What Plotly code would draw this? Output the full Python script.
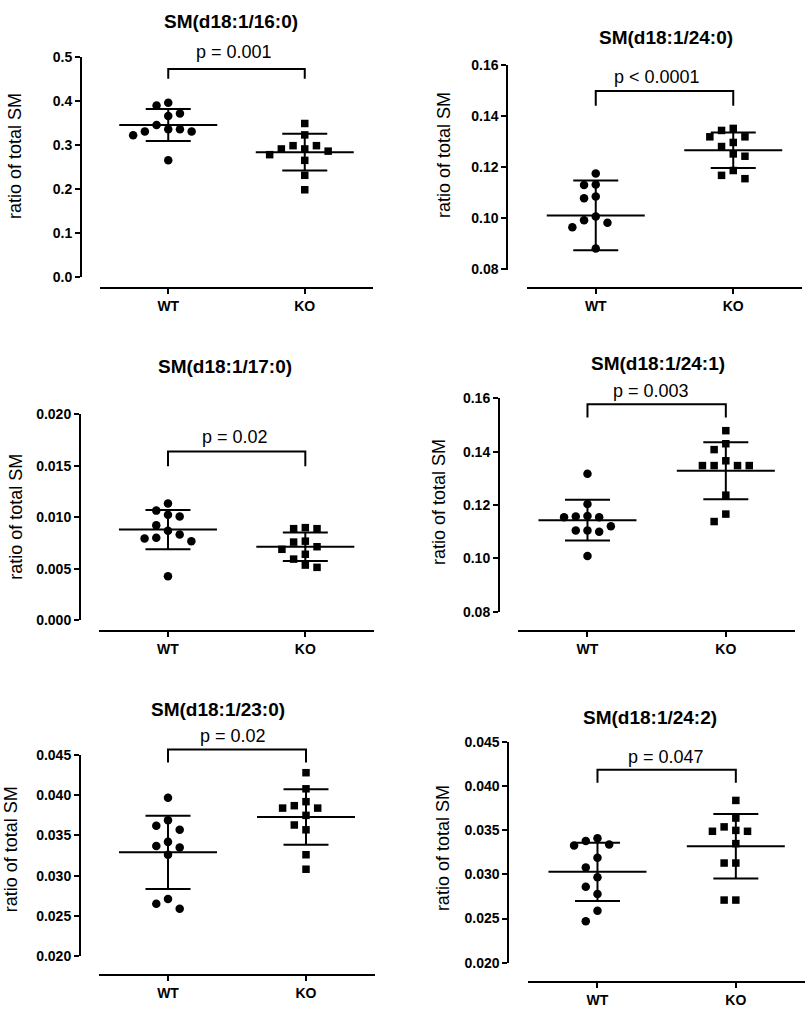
import plotly.graph_objects as go

W, H = 809, 1013

groups = ["WT", "KO"]
titles = ["SM(d18:1/16:0)", "SM(d18:1/24:0)", "SM(d18:1/17:0)",
          "SM(d18:1/24:1)", "SM(d18:1/23:0)", "SM(d18:1/24:2)"]
p_labels = ["p = 0.001", "p < 0.0001", "p = 0.02", "p = 0.003", "p = 0.02", "p = 0.047"]
y_title = "ratio of total SM"

y_ranges = [[0, 0.5], [0.08, 0.16], [0, 0.02], [0.08, 0.16], [0.02, 0.045], [0.02, 0.045]]
y_dticks = [0.1, 0.02, 0.005, 0.02, 0.005, 0.005]
y_formats = [".1f", ".2f", ".3f", ".2f", ".3f", ".3f"]

# individual animals
wt_values = [
    [0.396, 0.390, 0.372, 0.366, 0.3455, 0.336, 0.336, 0.331, 0.331, 0.322, 0.265],
    [0.1176, 0.1133, 0.1131, 0.1086, 0.1079, 0.1008, 0.0993, 0.0983, 0.0966, 0.0882],
    [0.01135, 0.01065, 0.01024, 0.01008, 0.00922, 0.00871, 0.00833, 0.00801, 0.00795, 0.00769, 0.00429],
    [0.1317, 0.1204, 0.1159, 0.1157, 0.1154, 0.1154, 0.1120, 0.1104, 0.1104, 0.1100, 0.1009],
    [0.0397, 0.0369, 0.0362, 0.0357, 0.0342, 0.0337, 0.0335, 0.0326, 0.0271, 0.0265, 0.0259],
    [0.0341, 0.0338, 0.0334, 0.0333, 0.0319, 0.0308, 0.0297, 0.0286, 0.0278, 0.0259, 0.0247],
]
ko_values = [
    [0.349, 0.323, 0.2985, 0.2985, 0.291, 0.291, 0.286, 0.278, 0.265, 0.231, 0.198],
    [0.1353, 0.1345, 0.1320, 0.1320, 0.1298, 0.1282, 0.1253, 0.1244, 0.1188, 0.1169, 0.1156],
    [0.00900, 0.00890, 0.00890, 0.00769, 0.00760, 0.00715, 0.00690, 0.00642, 0.00595, 0.00537, 0.00515],
    [0.1479, 0.1430, 0.1408, 0.1366, 0.1348, 0.1348, 0.1348, 0.1348, 0.1237, 0.1166, 0.1138],
    [0.0428, 0.0408, 0.0392, 0.0387, 0.0384, 0.0384, 0.0375, 0.0363, 0.0357, 0.0326, 0.0308],
    [0.0384, 0.0364, 0.0354, 0.0350, 0.0349, 0.0349, 0.0335, 0.0313, 0.0313, 0.0271, 0.0271],
]

# mean and SD lines as drawn in the picture
wt_mean = [0.3455, 0.1012, 0.00881, 0.1143, 0.0329, 0.0303]
wt_sd = [0.0365, 0.0137, 0.0019, 0.00765, 0.00455, 0.0033]
ko_mean = [0.2836, 0.1267, 0.00715, 0.1329, 0.0373, 0.0332]
ko_sd = [0.0418, 0.00695, 0.00138, 0.0107, 0.00345, 0.00365]

# panel geometry in pixels of the 809x1013 page
panels = [
    dict(yx=81, ytop=50, ybot=273, xy=285, xl=100, xr=373, title=(231.3, 13.3),
         ytit=(15.7, 150.8), ptxt=(234, 45), br=(62, 72)),
    dict(yx=507.3, ytop=58.3, ybot=265.7, xy=285, xl=527, xr=802, title=(666.2, 30),
         ytit=(443.3, 149), ptxt=(656.7, 70.3), br=(84.3, 99.3)),
    dict(yx=80, ytop=412.7, ybot=622.3, xy=633.3, xl=99.3, xr=374, title=(224.7, 363.8),
         ytit=(15.7, 517.3), ptxt=(235, 436), br=(450.7, 465.7)),
    dict(yx=499, ytop=396.7, ybot=613.3, xy=632.7, xl=518.3, xr=795, title=(658, 360.8),
         ytit=(438.3, 501.7), ptxt=(650.8, 388.8), br=(402.7, 416)),
    dict(yx=80, ytop=759, ybot=963.3, xy=982.7, xl=99, xr=375, title=(218, 712.3),
         ytit=(11.7, 855), ptxt=(233, 739.7), br=(753.3, 766.7)),
    dict(yx=508.3, ytop=746, ybot=970, xy=990, xl=528.3, xr=805, title=(650, 721.3),
         ytit=(443.3, 853.3), ptxt=(665.8, 760.8), br=(774, 787.3)),
]

FONT = "Arial, Liberation Sans, sans-serif"
STEP_PX = 11.7   # horizontal spacing of dots
DIAM_PX = 11     # dots closer than this vertically get pushed aside
MEAN_HALF_PX = 49
CAP_HALF_PX = 22.5


def fx(px):
    return px / W


def fy(py):
    return 1 - py / H


def swarm(vals, px_per_y):
    # simple beeswarm: put each dot in the nearest free column
    order = sorted(range(len(vals)), key=lambda i: -vals[i])
    cands = [0] + [s * c for c in range(1, 12) for s in (-1, 1)]
    placed = []
    cols = [0] * len(vals)
    for i in order:
        ypx = vals[i] * px_per_y
        for c in cands:
            if all(not (pc == c and abs(py - ypx) < DIAM_PX) for pc, py in placed):
                break
        placed.append((c, ypx))
        cols[i] = c
    return cols


fig = go.Figure()
shapes = []
annotations = []
layout_axes = {}

for k, p in enumerate(panels):
    n = "" if k == 0 else str(k + 1)
    xname, yname = "x" + n, "y" + n
    ppx = (p["xr"] - p["xl"]) / 2.0
    ppy = (p["ybot"] - p["ytop"]) / (y_ranges[k][1] - y_ranges[k][0])

    for g, (vals, mean, sd, sym, size) in enumerate([
        (wt_values[k], wt_mean[k], wt_sd[k], "circle", 8.5),
        (ko_values[k], ko_mean[k], ko_sd[k], "square", 7.5),
    ]):
        cols = swarm(vals, ppy)
        fig.add_trace(go.Scatter(
            x=[g + c * STEP_PX / ppx for c in cols], y=vals, mode="markers",
            marker=dict(symbol=sym, size=size, color="black", line=dict(width=0)),
            xaxis=xname, yaxis=yname, showlegend=False, cliponaxis=False,
        ))
        hw = MEAN_HALF_PX / ppx
        fig.add_trace(go.Scatter(
            x=[g - hw, g + hw], y=[mean, mean], mode="lines",
            line=dict(color="black", width=2),
            xaxis=xname, yaxis=yname, showlegend=False, cliponaxis=False,
        ))
        fig.add_trace(go.Scatter(
            x=[g], y=[mean], mode="markers",
            marker=dict(size=1, color="rgba(0,0,0,0)"),
            error_y=dict(type="data", array=[sd], symmetric=True, width=CAP_HALF_PX,
                         thickness=2, color="black"),
            xaxis=xname, yaxis=yname, showlegend=False, cliponaxis=False,
        ))

    layout_axes["xaxis" + n] = dict(
        domain=[fx(p["xl"]), fx(p["xr"])], range=[-0.5, 1.5],
        anchor="free", position=fy(p["xy"]),
        tickvals=[0, 1], ticktext=groups, ticks="outside", ticklen=5, tickwidth=2,
        tickcolor="black", showline=True, linecolor="black", linewidth=2,
        showgrid=False, zeroline=False, fixedrange=True,
        tickfont=dict(family=FONT, size=14, color="black", weight="bold"),
    )
    layout_axes["yaxis" + n] = dict(
        domain=[fy(p["ybot"]), fy(p["ytop"])], range=y_ranges[k],
        anchor="free", position=fx(p["yx"]),
        tick0=y_ranges[k][0], dtick=y_dticks[k], tickformat=y_formats[k],
        ticks="outside", ticklen=5, tickwidth=2, tickcolor="black",
        showline=True, linecolor="black", linewidth=2,
        showgrid=False, zeroline=False, fixedrange=True,
        tickfont=dict(family=FONT, size=14, color="black", weight="bold"),
    )

    yt, yb = fy(p["br"][0]), fy(p["br"][1])
    shapes.append(dict(
        type="path", xref=xname, yref="paper",
        path=f"M 0,{yb} L 0,{yt} L 1,{yt} L 1,{yb}",
        line=dict(color="black", width=2),
    ))

    annotations.append(dict(
        text=titles[k], x=fx(p["title"][0]), y=fy(p["title"][1]),
        xref="paper", yref="paper", xanchor="center", yanchor="middle", showarrow=False,
        font=dict(family=FONT, size=19, color="black", weight="bold"),
    ))
    annotations.append(dict(
        text=p_labels[k], x=fx(p["ptxt"][0]), y=fy(p["ptxt"][1]),
        xref="paper", yref="paper", xanchor="center", yanchor="middle", showarrow=False,
        font=dict(family=FONT, size=18, color="black"),
    ))
    annotations.append(dict(
        text=y_title, x=fx(p["ytit"][0]), y=fy(p["ytit"][1]), textangle=-90,
        xref="paper", yref="paper", xanchor="center", yanchor="middle", showarrow=False,
        font=dict(family=FONT, size=18, color="black"),
    ))

fig.update_layout(
    width=W, height=H,
    margin=dict(l=0, r=0, t=0, b=0),
    paper_bgcolor="white", plot_bgcolor="white",
    shapes=shapes, annotations=annotations,
    showlegend=False,
    **layout_axes,
)

# the page's default 8px body margin would push the figure off the window
fig.write_html("out.html", config={"displayModeBar": False},
               post_script="document.body.style.margin='0';")
